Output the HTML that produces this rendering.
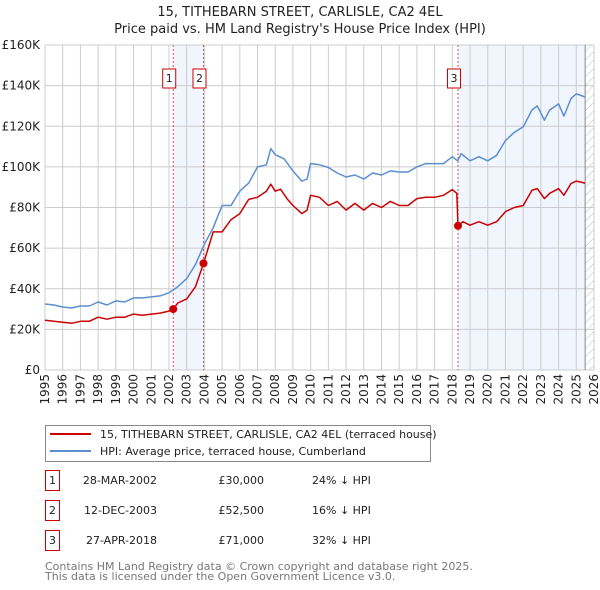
<!DOCTYPE html>
<html><head><meta charset="utf-8"><style>
body{margin:0;background:#fff;}
svg{display:block;font-family:"DejaVu Sans","Liberation Sans",sans-serif;}
</style></head><body>
<svg id="c" width="600" height="590" xmlns="http://www.w3.org/2000/svg">
<defs><pattern id="hatch" width="6" height="6" patternUnits="userSpaceOnUse" patternTransform="rotate(45)"><line x1="0" y1="0" x2="0" y2="6" stroke="#bbb" stroke-width="1"/></pattern></defs>
<text x="300" y="16" text-anchor="middle" font-size="13" fill="#222">15, TITHEBARN STREET, CARLISLE, CA2 4EL</text>
<text x="300" y="33" text-anchor="middle" font-size="13" fill="#222">Price paid vs. HM Land Registry's House Price Index (HPI)</text>
<g id="plot"></g>
<g>
<rect x="45.5" y="425.5" width="385" height="36" fill="#fff" stroke="#888"/>
<line x1="50" y1="434" x2="91" y2="434" stroke="#cc0000" stroke-width="2"/>
<text x="100" y="438" font-size="11" fill="#222">15, TITHEBARN STREET, CARLISLE, CA2 4EL (terraced house)</text>
<line x1="50" y1="451" x2="91" y2="451" stroke="#5b8fd0" stroke-width="2"/>
<text x="100" y="455" font-size="11" fill="#222">HPI: Average price, terraced house, Cumberland</text>
</g>
<g id="table" font-size="11" fill="#222"></g>
<text x="45" y="570" font-size="11" fill="#777">Contains HM Land Registry data © Crown copyright and database right 2025.</text>
<text x="45" y="580" font-size="11" fill="#777">This data is licensed under the Open Government Licence v3.0.</text>
</svg>
<script>
const hpiYears=[1995,1995.5,1996,1996.5,1997,1997.5,1998,1998.5,1999,1999.5,2000,2000.5,2001,2001.5,2002,2002.5,2003,2003.5,2004,2004.5,2005,2005.5,2006,2006.5,2007,2007.5,2007.75,2008,2008.5,2009,2009.5,2009.8,2010,2010.5,2011,2011.5,2012,2012.5,2013,2013.5,2014,2014.5,2015,2015.5,2016,2016.5,2017,2017.5,2018,2018.3,2018.5,2019,2019.5,2020,2020.5,2021,2021.5,2022,2022.5,2022.8,2023.2,2023.5,2024,2024.3,2024.7,2025,2025.5];
const hpiValues=[32.5,32,31,30.5,31.5,31.5,33.5,32,34,33.5,35.5,35.5,36,36.5,38,41,45,52,62,70,81,81,88,92,100,101,109,106,104,98,93,94,101.6,101,99.7,97,95,96,94,97,96,98,97.5,97.5,100,101.6,101.6,101.6,105,103,106.5,103,105,103,105.7,113,117,119.7,128,130,123,128,131,125,133.6,136,134.4];
const paidYears=[1995,1995.5,1996,1996.5,1997,1997.5,1998,1998.5,1999,1999.5,2000,2000.5,2001,2001.5,2002,2002.24,2002.5,2003,2003.5,2003.95,2004.5,2005,2005.5,2006,2006.5,2007,2007.5,2007.75,2008,2008.3,2008.7,2009,2009.5,2009.8,2010,2010.5,2011,2011.5,2012,2012.5,2013,2013.5,2014,2014.5,2015,2015.5,2016,2016.5,2017,2017.5,2018,2018.25,2018.32,2018.6,2019,2019.5,2020,2020.5,2021,2021.5,2022,2022.5,2022.8,2023.2,2023.5,2024,2024.3,2024.7,2025,2025.5];
const paidValues=[24.5,24,23.5,23,24,24,26,25,26,26,27.5,27,27.5,28,29,30,33,35,41,52.5,68,68,74,77,84,85,88,91.5,88,89,84,81,77,78.7,86,85,81,83,78.7,82,78.7,82,80,83,81,81,84.4,85,85,86,88.8,87,71,73,71.3,73,71.3,73,78,80,81,88.5,89.3,84.4,87,89.3,86,91.8,93,92];
const saleLabels=["1","2","3"];
const saleYears=[2002.24,2003.95,2018.32];
const saleValues=[30,52.5,71];
const saleDates=["28-MAR-2002","12-DEC-2003","27-APR-2018"];
const salePrices=["£30,000","£52,500","£71,000"];
const saleDiffs=["24% ↓ HPI","16% ↓ HPI","32% ↓ HPI"];
const yTicks=[0,20,40,60,80,100,120,140,160];
const yTickLabels=["£0","£20K","£40K","£60K","£80K","£100K","£120K","£140K","£160K"];
const xTicks=[1995,1996,1997,1998,1999,2000,2001,2002,2003,2004,2005,2006,2007,2008,2009,2010,2011,2012,2013,2014,2015,2016,2017,2018,2019,2020,2021,2022,2023,2024,2025,2026];

const X0=45,X1=594,Y0=370,Y1=45;
const xs=y=>X0+(y-1995)/(2026-1995)*(X1-X0);
const ys=v=>Y0-v/160*(Y0-Y1);
const NS="http://www.w3.org/2000/svg";
const plot=document.getElementById('plot');
function mk(tag,attrs,parent){const e=document.createElementNS(NS,tag);for(const k in attrs)e.setAttribute(k,attrs[k]);(parent||plot).appendChild(e);return e;}
let e;
e=mk('rect',{x:xs(saleYears[0]),y:Y1,width:xs(saleYears[1])-xs(saleYears[0]),height:Y0-Y1,fill:'#eef3fc',opacity:0.8});


e=mk('rect',{x:xs(saleYears[2]),y:Y1,width:xs(2025.5)-xs(saleYears[2]),height:Y0-Y1,fill:'#eef3fc',opacity:0.8});


e=mk('rect',{x:xs(2025.5),y:Y1,width:X1-xs(2025.5),height:Y0-Y1,fill:'url(#hatch)'});


xTicks.forEach((t,i)=>{
 e=mk('line',{x1:xs(t),x2:xs(t),y1:Y1,y2:Y0,stroke:'#cccccc','stroke-width':1});
 
 
 e=mk('text',{x:0,y:0,transform:`translate(${xs(t)+4},${Y0+4}) rotate(-90)`,'text-anchor':'end','font-size':12,fill:'#222'});
 e.textContent=String(t);
 
 
});
yTicks.forEach((t,i)=>{
 e=mk('line',{x1:X0,x2:X1,y1:ys(t),y2:ys(t),stroke:'#cccccc','stroke-width':1});
 
 
 e=mk('text',{x:X0-5,y:ys(t)+4,'text-anchor':'end','font-size':12,fill:'#222'});
 e.textContent=yTickLabels[i];
 
 
});
e=mk('line',{x1:xs(2025.5),x2:xs(2025.5),y1:Y1,y2:Y0,stroke:'#888','stroke-width':1});


saleYears.forEach((y,i)=>{
 e=mk('line',{x1:xs(y),x2:xs(y),y1:Y1,y2:Y0,stroke:'#e05050','stroke-width':1,'stroke-dasharray':'2,2'});
 
 
 const g=mk('g',{});
 
 
 mk('rect',{x:xs(y)-10.5,y:69,width:13,height:19,fill:'#fff',stroke:'#cc0000'},g);
 const t=mk('text',{x:xs(y)-4,y:82,'text-anchor':'middle','font-size':11,fill:'#222'},g);
 t.textContent=saleLabels[i];
});
function line(xa,va,color,name){
 const d=xa.map((x,i)=>(i?'L':'M')+xs(x).toFixed(1)+','+ys(va[i]).toFixed(1)).join('');
 e=mk('path',{d:d,fill:'none',stroke:color,'stroke-width':1.5,'stroke-linejoin':'round'});
 
 
}
line(hpiYears,hpiValues,'#5b8fd0','hpi-line');
line(paidYears,paidValues,'#cc0000','price-paid-line');
saleYears.forEach((y,i)=>{
 e=mk('circle',{cx:xs(y),cy:ys(saleValues[i]),r:4,fill:'#cc0000'});
 
 
});
const tb=document.getElementById('table');
saleLabels.forEach((l,i)=>{
 const y=483+i*30;
 const g=mk('g',{},tb);
 
 
 mk('rect',{x:45.5,y:y-12.5,width:14,height:20,fill:'#fff',stroke:'#cc0000'},g);
 let t=mk('text',{x:52.5,y:y+1,'text-anchor':'middle'},g);t.textContent=l;
 t=mk('text',{x:157,y:y+1,'text-anchor':'end'},g);t.textContent=saleDates[i];
 t=mk('text',{x:264,y:y+1,'text-anchor':'end'},g);t.textContent=salePrices[i];
 t=mk('text',{x:312,y:y+1},g);t.textContent=saleDiffs[i];
});
</script>
</body></html>
